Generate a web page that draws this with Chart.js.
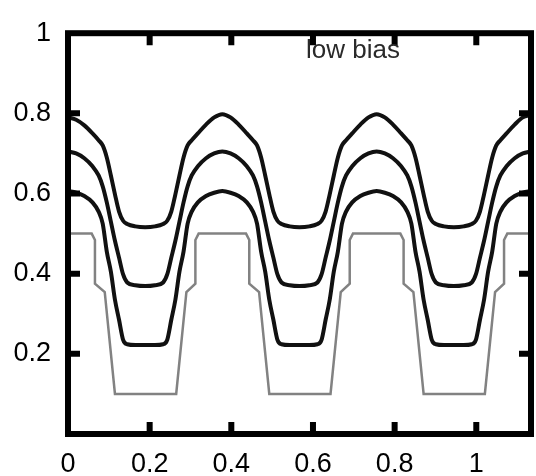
<!DOCTYPE html>
<html>
<head>
<meta charset="utf-8">
<script src="https://cdn.jsdelivr.net/npm/chart.js@4"></script>
<style>
  html, body { margin: 0; padding: 0; background: #fff; }
  canvas { display: block; }
</style>
</head>
<body>
<canvas id="chart" width="536" height="476"></canvas>
<script>
const xTicks = [0, 0.2, 0.4, 0.6, 0.8, 1];
const yTicks = [0.2, 0.4, 0.6, 0.8, 1];

// shared x positions for the three smooth curves
const curveX = [
  0, 0.02, 0.04, 0.06, 0.075, 0.085, 0.095, 0.105, 0.115, 0.125, 0.135, 0.145, 0.165,
  0.189, 0.213, 0.233, 0.243, 0.253, 0.263, 0.273, 0.283, 0.293, 0.303, 0.318, 0.338, 0.358,
  0.378, 0.398, 0.418, 0.438, 0.453, 0.463, 0.473, 0.483, 0.493, 0.503, 0.513, 0.523, 0.543,
  0.567, 0.591, 0.611, 0.621, 0.631, 0.641, 0.651, 0.661, 0.671, 0.681, 0.696, 0.716, 0.736,
  0.756, 0.776, 0.796, 0.816, 0.831, 0.841, 0.851, 0.861, 0.871, 0.881, 0.891, 0.901, 0.921,
  0.945, 0.969, 0.989, 0.999, 1.009, 1.019, 1.029, 1.039, 1.049, 1.059, 1.074, 1.094, 1.114,
  1.134
];
const upperCurve = [
  0.79, 0.784, 0.77, 0.75, 0.733, 0.72, 0.69, 0.645, 0.598, 0.555, 0.532, 0.524, 0.518,
  0.516, 0.518, 0.524, 0.532, 0.555, 0.598, 0.645, 0.69, 0.72, 0.733, 0.75, 0.772, 0.79,
  0.798, 0.79, 0.772, 0.75, 0.733, 0.72, 0.69, 0.645, 0.598, 0.555, 0.532, 0.524, 0.518,
  0.516, 0.518, 0.524, 0.532, 0.555, 0.598, 0.645, 0.69, 0.72, 0.733, 0.75, 0.772, 0.79,
  0.798, 0.79, 0.772, 0.75, 0.733, 0.72, 0.69, 0.645, 0.598, 0.555, 0.532, 0.524, 0.518,
  0.516, 0.518, 0.524, 0.532, 0.555, 0.598, 0.645, 0.69, 0.72, 0.733, 0.75, 0.772, 0.79,
  0.796
];
const middleCurve = [
  0.705, 0.7, 0.688, 0.668, 0.645, 0.618, 0.578, 0.53, 0.482, 0.44, 0.398, 0.378, 0.371,
  0.369, 0.371, 0.378, 0.398, 0.44, 0.482, 0.53, 0.578, 0.618, 0.645, 0.668, 0.688, 0.7,
  0.705, 0.7, 0.688, 0.668, 0.645, 0.618, 0.578, 0.53, 0.482, 0.44, 0.398, 0.378, 0.371,
  0.369, 0.371, 0.378, 0.398, 0.44, 0.482, 0.53, 0.578, 0.618, 0.645, 0.668, 0.688, 0.7,
  0.705, 0.7, 0.688, 0.668, 0.645, 0.618, 0.578, 0.53, 0.482, 0.44, 0.398, 0.378, 0.371,
  0.369, 0.371, 0.378, 0.398, 0.44, 0.482, 0.53, 0.578, 0.618, 0.645, 0.668, 0.688, 0.7,
  0.705
];
const lowerCurve = [
  0.606, 0.602, 0.594, 0.578, 0.555, 0.525, 0.455, 0.405, 0.335, 0.285, 0.235, 0.224, 0.222,
  0.222, 0.222, 0.224, 0.235, 0.285, 0.335, 0.405, 0.455, 0.525, 0.555, 0.578, 0.594, 0.602,
  0.606, 0.602, 0.594, 0.578, 0.555, 0.525, 0.455, 0.405, 0.335, 0.285, 0.235, 0.224, 0.222,
  0.222, 0.222, 0.224, 0.235, 0.285, 0.335, 0.405, 0.455, 0.525, 0.555, 0.578, 0.594, 0.602,
  0.606, 0.602, 0.594, 0.578, 0.555, 0.525, 0.455, 0.405, 0.335, 0.285, 0.235, 0.224, 0.222,
  0.222, 0.222, 0.224, 0.235, 0.285, 0.335, 0.405, 0.455, 0.525, 0.555, 0.578, 0.594, 0.602,
  0.606
];

// stepped profile (gray)
const stepX = [
  0, 0.058, 0.066, 0.066, 0.09, 0.115, 0.265, 0.29, 0.312, 0.312, 0.32,
  0.436, 0.444, 0.444, 0.468, 0.493, 0.643, 0.668, 0.69, 0.69, 0.698,
  0.814, 0.822, 0.822, 0.846, 0.871, 1.021, 1.046, 1.068, 1.068, 1.076,
  1.134
];
const stepCurve = [
  0.5, 0.5, 0.484, 0.375, 0.354, 0.1, 0.1, 0.354, 0.375, 0.484, 0.5,
  0.5, 0.484, 0.375, 0.354, 0.1, 0.1, 0.354, 0.375, 0.484, 0.5,
  0.5, 0.484, 0.375, 0.354, 0.1, 0.1, 0.354, 0.375, 0.484, 0.5,
  0.5
];

const pts = (xs, ys) => xs.map((x, i) => ({ x: x, y: ys[i] }));
const FONT = '"Liberation Sans", Arial, sans-serif';

// box with inward ticks on all four sides + annotation
const frame = {
  id: 'frame',
  afterDatasetsDraw(chart) {
    const { ctx, chartArea: a, scales: { x, y } } = chart;
    ctx.save();
    ctx.strokeStyle = '#000';
    ctx.lineWidth = 6;
    ctx.lineJoin = 'miter';
    ctx.strokeRect(a.left, a.top, a.right - a.left, a.bottom - a.top);
    ctx.beginPath();
    xTicks.forEach(v => {
      if (v === 0) return;
      const px = x.getPixelForValue(v);
      ctx.moveTo(px, a.bottom); ctx.lineTo(px, a.bottom - 12);
      ctx.moveTo(px, a.top); ctx.lineTo(px, a.top + 12);
    });
    yTicks.forEach(v => {
      if (v === 1) return;
      const py = y.getPixelForValue(v);
      ctx.moveTo(a.left, py); ctx.lineTo(a.left + 12, py);
      ctx.moveTo(a.right, py); ctx.lineTo(a.right - 12, py);
    });
    ctx.stroke();
    ctx.fillStyle = '#2a2a2a';
    ctx.font = '26px ' + FONT;
    ctx.textBaseline = 'alphabetic';
    ctx.fillText('low bias', 306, 58);
    ctx.restore();
  }
};

const line = (data, color, width) => ({
  data: data,
  borderColor: color,
  borderWidth: width,
  pointRadius: 0,
  fill: false
});

new Chart(document.getElementById('chart'), {
  type: 'line',
  data: {
    datasets: [
      { ...line(pts(stepX, stepCurve), '#828282', 2.5), tension: 0 },
      { ...line(pts(curveX, lowerCurve), '#111', 4), cubicInterpolationMode: 'monotone' },
      { ...line(pts(curveX, middleCurve), '#111', 4), cubicInterpolationMode: 'monotone' },
      { ...line(pts(curveX, upperCurve), '#111', 4), cubicInterpolationMode: 'monotone' }
    ]
  },
  options: {
    responsive: false,
    animation: false,
    layout: { padding: { top: 23, right: 5, left: 0, bottom: 0 } },
    plugins: { legend: { display: false }, tooltip: { enabled: false } },
    scales: {
      x: {
        type: 'linear',
        min: 0,
        max: 1.134,
        afterBuildTicks: s => { s.ticks = xTicks.map(v => ({ value: v })); },
        afterFit: s => { s.height = 42; },
        grid: { display: false, drawTicks: false },
        border: { display: false },
        ticks: {
          color: '#000',
          padding: 14,
          maxRotation: 0,
          font: { family: FONT, size: 27 },
          callback: v => String(v)
        }
      },
      y: {
        min: 0,
        max: 1,
        afterBuildTicks: s => { s.ticks = yTicks.map(v => ({ value: v })); },
        afterFit: s => { s.width = 68; },
        grid: { display: false, drawTicks: false },
        border: { display: false },
        ticks: {
          color: '#000',
          padding: 17,
          font: { family: FONT, size: 27 },
          callback: v => String(v)
        }
      }
    }
  },
  plugins: [frame]
});
</script>
</body>
</html>
